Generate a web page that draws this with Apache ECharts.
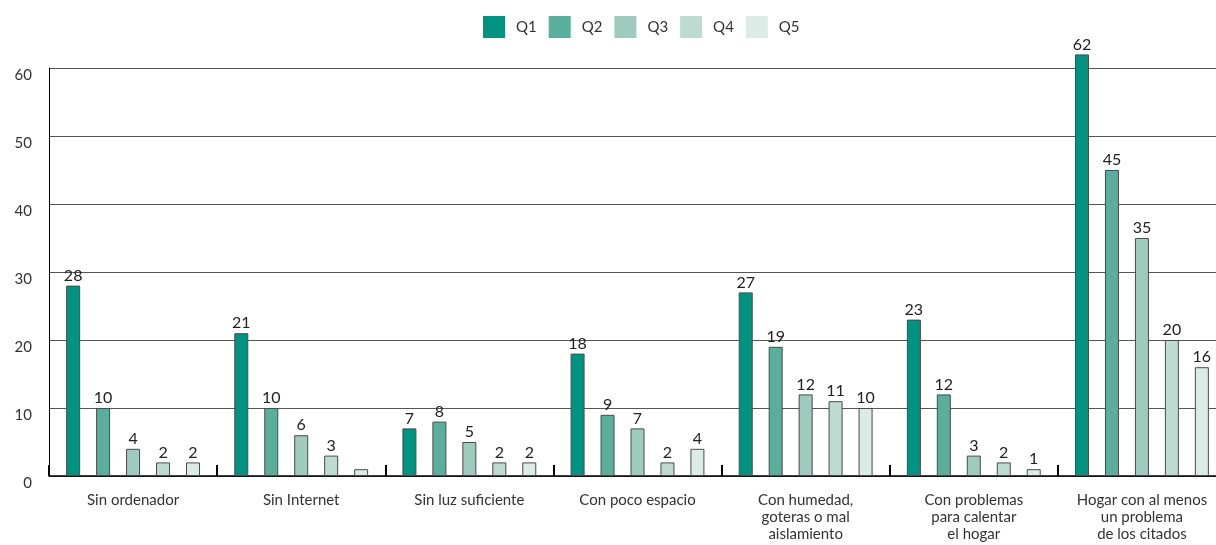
<!DOCTYPE html>
<html><head><meta charset="utf-8">
<script src="https://cdn.jsdelivr.net/npm/echarts@6/dist/echarts.min.js"></script>
<style>html,body{margin:0;padding:0;background:#fff}#c{width:1216px;height:545px}</style>
</head><body><div id="c"></div>
<script>
const categories = ["Sin ordenador","Sin Internet","Sin luz suficiente","Con poco espacio","Con humedad,\ngoteras o mal\naislamiento","Con problemas\npara calentar\nel hogar","Hogar con al menos\nun problema\nde los citados"];
const seriesNames = ["Q1","Q2","Q3","Q4","Q5"];
const q1 = [28,21,7,18,27,23,62];
const q2 = [10,10,8,9,19,12,45];
const q3 = [4,6,5,7,12,3,35];
const q4 = [2,3,2,2,11,2,20];
const q5 = [2,1,2,4,10,1,16];
const hiddenLabels = [[4,1]]; // [seriesIndex, categoryIndex] shown without a label
const colors = ["#009382","#5aae9c","#9ecbbe","#bedbd2","#dbebe6"];
const values = [q1,q2,q3,q4,q5];
const font = "Lato, 'DejaVu Sans', sans-serif";
const chart = echarts.init(document.getElementById('c'));
chart.setOption({
  animation:false,
  legend:{top:16,left:483,padding:0,itemWidth:22,itemHeight:22,itemGap:12,icon:'rect',
    itemStyle:{borderWidth:0},
    textStyle:{fontFamily:font,fontSize:15,color:'#333',padding:[0,0,0,6]},data:seriesNames},
  grid:{left:49,width:1177,top:68,height:408,containLabel:false,outerBoundsMode:'none'},
  xAxis:{type:'category',data:categories,
    axisLine:{lineStyle:{color:'#000',width:1.5}},
    axisTick:{show:true,inside:true,length:11,lineStyle:{color:'#000',width:2}},
    axisLabel:{fontFamily:font,fontSize:15,color:'#333',margin:16,lineHeight:17,interval:0}},
  yAxis:{type:'value',min:0,max:60,interval:10,
    axisLine:{show:true,lineStyle:{color:'#000',width:1}},
    axisTick:{show:false},
    splitLine:{lineStyle:{color:'#555',width:1}},
    axisLabel:{fontFamily:font,fontSize:15,color:'#333',margin:17,verticalAlign:'top'}},
  series: values.map((arr,si)=>({
    name:seriesNames[si],type:'bar',barWidth:14,barGap:'114%',clip:false,
    itemStyle:{color:colors[si],borderColor:'#4a4a4a',borderWidth:1},
    label:{show:true,position:'top',distance:2,fontFamily:font,fontSize:16,color:'#222'},
    data:arr.map((v,ci)=>{
      const hide = hiddenLabels.some(h=>h[0]===si&&h[1]===ci);
      return hide?{value:v,label:{show:false}}:v;
    })
  }))
});
</script></body></html>
